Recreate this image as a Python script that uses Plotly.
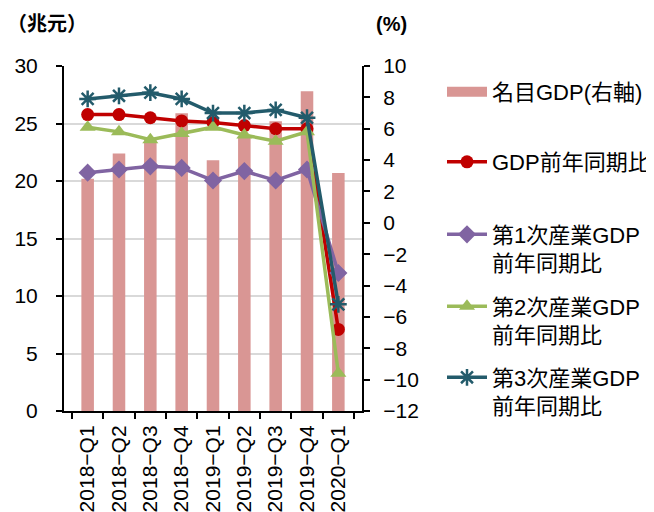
import plotly.graph_objects as go

categories = ["2018−Q1", "2018−Q2", "2018−Q3", "2018−Q4", "2019−Q1",
              "2019−Q2", "2019−Q3", "2019−Q4", "2020−Q1"]
nominal_gdp = [20.2, 22.4, 23.6, 25.9, 21.8, 23.8, 25.2, 27.8, 20.7]
gdp_yoy = [6.9, 6.9, 6.7, 6.5, 6.4, 6.2, 6.0, 6.0, -6.8]
primary_yoy = [3.2, 3.4, 3.6, 3.5, 2.7, 3.3, 2.7, 3.4, -3.2]
secondary_yoy = [6.1, 5.8, 5.3, 5.7, 6.1, 5.6, 5.2, 5.8, -9.6]
tertiary_yoy = [7.9, 8.1, 8.3, 7.9, 7.0, 7.0, 7.2, 6.7, -5.2]

names = ["名目GDP(右軸)", "GDP前年同期比", "第1次産業GDP<br>前年同期比",
         "第2次産業GDP<br>前年同期比", "第3次産業GDP<br>前年同期比"]

FONT = "Liberation Sans, Noto Sans CJK JP, sans-serif"
BAR_COLOR = "#D99694"
LW = 3.5

# page has an 8px body margin; figure is sized to fit the window
OFF = 8
W, H = 654 - OFF, 512 - OFF
PL, PR, PT, PB = 64 - OFF, 362 - OFF, 66 - OFF, 411 - OFF

fig = go.Figure()
fig.add_trace(go.Bar(x=categories, y=nominal_gdp, name=names[0],
                     marker=dict(color=BAR_COLOR, line=dict(width=0)),
                     showlegend=False))
# legend entry for the bars (wide rectangle swatch)
fig.add_trace(go.Scatter(x=[None], y=[None], name=names[0], mode="lines",
                         line=dict(color=BAR_COLOR, width=11),
                         legend="legend", hoverinfo="skip"))
fig.add_trace(go.Scatter(x=categories, y=gdp_yoy, name=names[1], yaxis="y2",
                         mode="lines+markers",
                         line=dict(color="#C00000", width=LW),
                         marker=dict(symbol="circle", size=13, color="#C00000"),
                         legend="legend2"))
fig.add_trace(go.Scatter(x=categories, y=primary_yoy, name=names[2], yaxis="y2",
                         mode="lines+markers",
                         line=dict(color="#8064A2", width=LW),
                         marker=dict(symbol="diamond", size=14, color="#8064A2"),
                         legend="legend3"))
fig.add_trace(go.Scatter(x=categories, y=secondary_yoy, name=names[3], yaxis="y2",
                         mode="lines+markers",
                         line=dict(color="#9BBB59", width=LW),
                         marker=dict(symbol="triangle-up", size=14, color="#9BBB59"),
                         legend="legend4"))
fig.add_trace(go.Scatter(x=categories, y=tertiary_yoy, name=names[4], yaxis="y2",
                         mode="lines+markers",
                         line=dict(color="#235B6B", width=LW),
                         marker=dict(symbol="asterisk-open", size=14, color="#235B6B",
                                     line=dict(color="#235B6B", width=2.5)),
                         legend="legend5"))


def leg(center_px, valign="middle"):
    return dict(x=(442 - OFF) / W, xref="container", xanchor="left",
                y=1 - (center_px - OFF) / H, yref="container", yanchor="middle",
                font=dict(family=FONT, size=22, color="#000000"),
                bgcolor="rgba(0,0,0,0)", valign=valign, itemwidth=40)


def px_to_paper_x(px):
    return (px - OFF - PL) / (PR - PL)


def px_to_paper_y(py):
    return (PB - (py - OFF)) / (PB - PT)


fig.update_layout(
    width=W, height=H,
    margin=dict(l=PL, r=W - PR, t=PT, b=H - PB, autoexpand=False),
    paper_bgcolor="white", plot_bgcolor="white",
    font=dict(family=FONT, size=20, color="#000000"),
    bargap=0.6,
    showlegend=True,
    legend=leg(92),
    legend2=leg(162),
    legend3=leg(249, "top"),
    legend4=leg(321, "top"),
    legend5=leg(392, "top"),
    xaxis=dict(type="category", showline=True, linecolor="#000000", linewidth=2,
               ticks="outside", ticklen=6, tickwidth=2, tickcolor="#000000",
               tickson="boundaries", tickangle=-90, showgrid=False,
               tickfont=dict(size=21), automargin=False, ticklabelstandoff=4),
    yaxis=dict(range=[0, 30], dtick=5, showline=True, linecolor="#000000", linewidth=2,
               ticks="outside", ticklen=6, tickwidth=2, tickcolor="#000000",
               showgrid=True, gridcolor="#D9D9D9", gridwidth=2, zeroline=False,
               tickfont=dict(size=21), automargin=False, ticklabelstandoff=14),
    yaxis2=dict(range=[-12, 10], dtick=2, overlaying="y", side="right",
                showline=True, linecolor="#000000", linewidth=2,
                ticks="outside", ticklen=6, tickwidth=2, tickcolor="#000000",
                showgrid=False, zeroline=False, tickfont=dict(size=21),
                automargin=False, ticklabelstandoff=9),
    annotations=[
        dict(text="<b>（兆元）</b>", x=px_to_paper_x(5), y=px_to_paper_y(24),
             xref="paper", yref="paper",
             showarrow=False, xanchor="left", yanchor="middle",
             font=dict(family=FONT, size=20, color="#000000")),
        dict(text="<b>(%)</b>", x=px_to_paper_x(374), y=px_to_paper_y(24),
             xref="paper", yref="paper",
             showarrow=False, xanchor="left", yanchor="middle",
             font=dict(family=FONT, size=20, color="#000000")),
    ],
)

fig.write_html("out.html")
